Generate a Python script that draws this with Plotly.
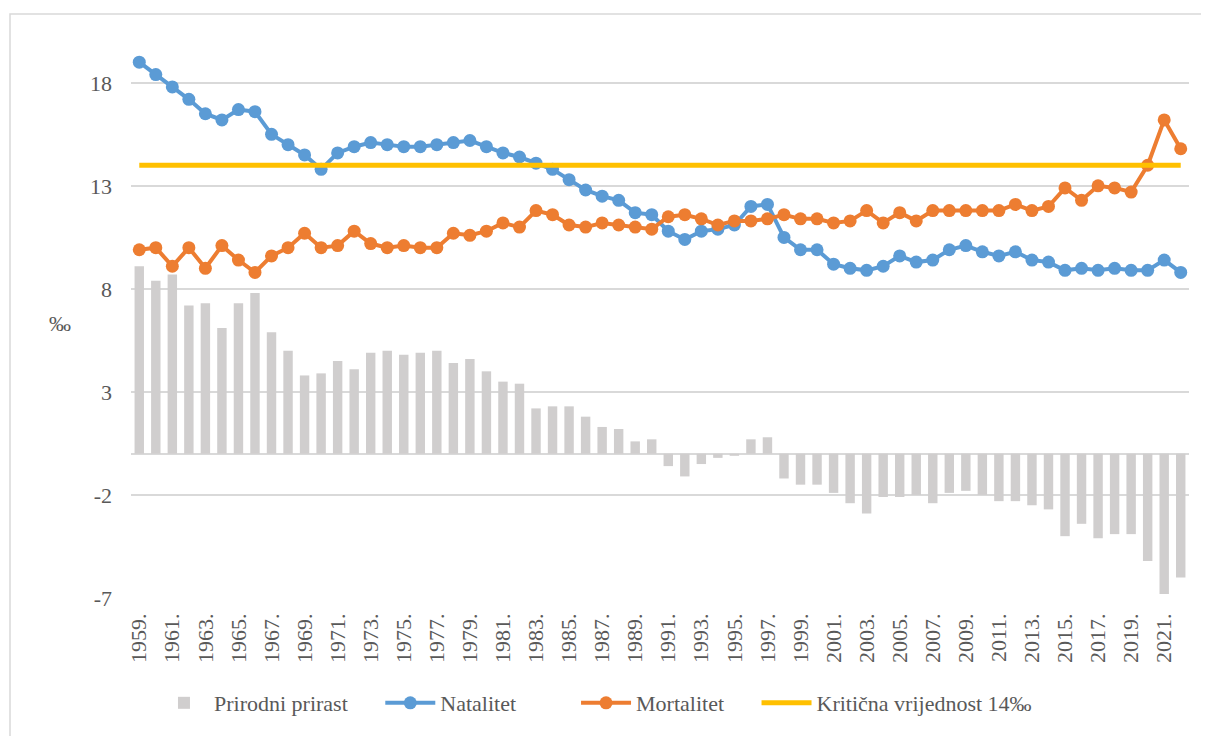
import plotly.graph_objects as go

years = [f"{y}." for y in range(1959, 2023)]

natalitet = [
    19.0, 18.4, 17.8, 17.2, 16.5, 16.2, 16.7, 16.6, 15.5, 15.0,
    14.5, 13.8, 14.6, 14.9, 15.1, 15.0, 14.9, 14.9, 15.0, 15.1,
    15.2, 14.9, 14.6, 14.4, 14.1, 13.8, 13.3, 12.8, 12.5, 12.3,
    11.7, 11.6, 10.8, 10.4, 10.8, 10.9, 11.1, 12.0, 12.1, 10.5,
    9.9, 9.9, 9.2, 9.0, 8.9, 9.1, 9.6, 9.3, 9.4, 9.9,
    10.1, 9.8, 9.6, 9.8, 9.4, 9.3, 8.9, 9.0, 8.9, 9.0,
    8.9, 8.9, 9.4, 8.8,
]

mortalitet = [
    9.9, 10.0, 9.1, 10.0, 9.0, 10.1, 9.4, 8.8, 9.6, 10.0,
    10.7, 10.0, 10.1, 10.8, 10.2, 10.0, 10.1, 10.0, 10.0, 10.7,
    10.6, 10.8, 11.2, 11.0, 11.8, 11.6, 11.1, 11.0, 11.2, 11.1,
    11.0, 10.9, 11.5, 11.6, 11.4, 11.1, 11.3, 11.3, 11.4, 11.6,
    11.4, 11.4, 11.2, 11.3, 11.8, 11.2, 11.7, 11.3, 11.8, 11.8,
    11.8, 11.8, 11.8, 12.1, 11.8, 12.0, 12.9, 12.3, 13.0, 12.9,
    12.7, 14.0, 16.2, 14.8,
]

prirodni_prirast = [
    9.1, 8.4, 8.7, 7.2, 7.3, 6.1, 7.3, 7.8, 5.9, 5.0,
    3.8, 3.9, 4.5, 4.1, 4.9, 5.0, 4.8, 4.9, 5.0, 4.4,
    4.6, 4.0, 3.5, 3.4, 2.2, 2.3, 2.3, 1.8, 1.3, 1.2,
    0.6, 0.7, -0.6, -1.1, -0.5, -0.2, -0.1, 0.7, 0.8, -1.2,
    -1.5, -1.5, -1.9, -2.4, -2.9, -2.1, -2.1, -2.0, -2.4, -1.9,
    -1.8, -2.0, -2.3, -2.3, -2.5, -2.7, -4.0, -3.4, -4.1, -3.9,
    -3.9, -5.2, -6.8, -6.0,
]

kriticna = [14.0] * len(years)

y_ticks = [-7, -2, 3, 8, 13, 18]
y_ticktext = ["-7", "-2", "3", "8", "13", "18"]

FONT = "Liberation Serif"
GREY_TEXT = "#595959"
NB = "\u00a0"

fig = go.Figure()
fig.add_trace(go.Bar(x=years, y=prirodni_prirast, name="Prirodni prirast" + NB * 5,
                     marker=dict(color="#D0CECE", line=dict(width=0))))
fig.add_trace(go.Scatter(x=years, y=natalitet, name="Natalitet" + NB * 10, mode="lines+markers",
                         line=dict(color="#5B9BD5", width=4),
                         marker=dict(size=13, color="#5B9BD5")))
fig.add_trace(go.Scatter(x=years, y=mortalitet, name="Mortalitet" + NB * 5, mode="lines+markers",
                         line=dict(color="#ED7D31", width=4),
                         marker=dict(size=13, color="#ED7D31")))
fig.add_trace(go.Scatter(x=years, y=kriticna, name="Kritična vrijednost 14‰", mode="lines",
                         line=dict(color="#FFC000", width=5)))

# page body adds an 8px offset, so the figure is 8px smaller and coords shifted
W, H = 1201, 728
L, R, T, B = 123, 20, 13, 138
pw, ph = W - L - R, H - T - B


def px_to_paper(x, y):
    return (x - L) / pw, (H - B - y) / ph


bx0, by0 = px_to_paper(2, 6)
bx1, by1 = px_to_paper(1215, 740)
ax, ay = px_to_paper(52, 315)

fig.update_layout(
    width=W, height=H,
    margin=dict(l=L, r=R, t=T, b=B, autoexpand=False),
    paper_bgcolor="white", plot_bgcolor="white",
    font=dict(family=FONT, size=22, color=GREY_TEXT),
    bargap=0.43,
    showlegend=True,
    legend=dict(orientation="h", x=0.439, xanchor="center", y=-0.182, yanchor="middle",
                font=dict(family=FONT, size=22, color=GREY_TEXT),
                itemwidth=50, traceorder="normal"),
    shapes=[dict(type="rect", xref="paper", yref="paper", x0=bx0, x1=bx1, y0=by1, y1=by0,
                 line=dict(color="#D9D9D9", width=1.5), fillcolor="rgba(0,0,0,0)", layer="below")],
    annotations=[dict(text="‰", xref="paper", yref="paper", x=ax, y=ay,
                      xanchor="center", yanchor="middle",
                      showarrow=False, font=dict(family=FONT, size=22, color=GREY_TEXT))],
)

fig.update_xaxes(
    type="category", range=[-0.5, len(years) - 0.5],
    tickmode="array", tickvals=years[::2], ticktext=years[::2],
    tickangle=-90, tickfont=dict(family=FONT, size=22, color=GREY_TEXT),
    showgrid=False, showline=False, ticks="", ticklabelstandoff=10, automargin=False,
)
fig.update_yaxes(
    range=[-7, 21], tickmode="array", tickvals=y_ticks, ticktext=y_ticktext,
    tickfont=dict(family=FONT, size=22, color=GREY_TEXT),
    showgrid=True, gridcolor="#D9D9D9", gridwidth=1.5,
    zeroline=True, zerolinecolor="#D9D9D9", zerolinewidth=2,
    showline=False, ticks="", ticklabelstandoff=18, automargin=False,
)

fig.write_html("out.html")
